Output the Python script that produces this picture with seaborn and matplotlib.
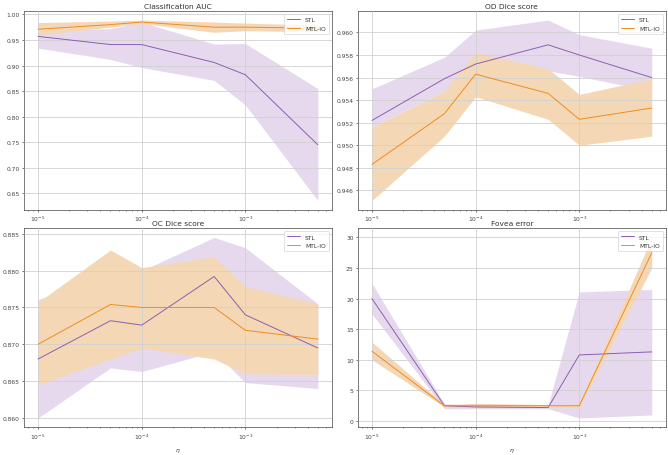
import numpy as np
import pandas as pd
import matplotlib
matplotlib.use("Agg")
import matplotlib.pyplot as plt
import seaborn as sns

# -------------------------------------------------
# Data
# -------------------------------------------------
eta = [1e-5, 5e-5, 1e-4, 5e-4, 1e-3, 5e-3]

auc_stl = [0.957, 0.941, 0.941, 0.906, 0.882, 0.745]
auc_stl_lo = [0.934, 0.912, 0.896, 0.871, 0.823, 0.636]
auc_stl_hi = [0.970, 0.972, 0.985, 0.942, 0.943, 0.855]
auc_mtl = [0.971, 0.980, 0.985, 0.975, 0.975, 0.973]
auc_mtl_lo = [0.960, 0.975, 0.982, 0.965, 0.968, 0.966]
auc_mtl_hi = [0.984, 0.987, 0.989, 0.985, 0.983, 0.979]

od_stl = [0.9522, 0.9559, 0.9572, 0.9589, 0.9580, 0.9560]
od_stl_lo = [0.9516, 0.9548, 0.9545, 0.9566, 0.9561, 0.9548]
od_stl_hi = [0.9550, 0.9578, 0.9602, 0.9611, 0.9598, 0.9586]
od_mtl = [0.9483, 0.9528, 0.9563, 0.9546, 0.9523, 0.9533]
od_mtl_lo = [0.9451, 0.9508, 0.9543, 0.9523, 0.9500, 0.9508]
od_mtl_hi = [0.9516, 0.9548, 0.9582, 0.9568, 0.9545, 0.9559]

oc_stl = [0.8680, 0.8732, 0.8726, 0.8792, 0.8740, 0.8695]
oc_stl_lo = [0.8600, 0.8668, 0.8663, 0.8690, 0.8648, 0.8640]
oc_stl_hi = [0.8761, 0.8790, 0.8800, 0.8845, 0.8831, 0.8755]
oc_mtl = [0.8700, 0.8754, 0.8750, 0.8750, 0.8719, 0.8707]
oc_mtl_lo = [0.8645, 0.8680, 0.8695, 0.8680, 0.8660, 0.8659]
oc_mtl_hi = [0.8757, 0.8828, 0.8804, 0.8819, 0.8778, 0.8755]

fov_stl = [20.0, 2.5, 2.3, 2.2, 10.8, 11.3]
fov_stl_lo = [17.5, 2.0, 2.0, 2.0, 0.5, 1.0]
fov_stl_hi = [22.5, 2.8, 2.6, 2.6, 21.1, 21.5]
fov_mtl = [11.4, 2.5, 2.5, 2.5, 2.5, 27.5]
fov_mtl_lo = [10.0, 2.3, 2.3, 2.3, 2.2, 25.0]
fov_mtl_hi = [12.9, 2.7, 2.9, 2.7, 2.8, 30.0]

titles = ["Classification AUC", "OD Dice score", "OC Dice score", "Fovea error"]
models = ["STL", "MTL-IO"]
colors = {"STL": "#8c5fb0", "MTL-IO": "#f08c1e"}
band_colors = {"STL": "#e6d9ee", "MTL-IO": "#f4d7b5"}

panels = [
    (auc_stl, auc_stl_lo, auc_stl_hi, auc_mtl, auc_mtl_lo, auc_mtl_hi),
    (od_stl, od_stl_lo, od_stl_hi, od_mtl, od_mtl_lo, od_mtl_hi),
    (oc_stl, oc_stl_lo, oc_stl_hi, oc_mtl, oc_mtl_lo, oc_mtl_hi),
    (fov_stl, fov_stl_lo, fov_stl_hi, fov_mtl, fov_mtl_lo, fov_mtl_hi),
]

# -------------------------------------------------
# Plot
# -------------------------------------------------
sns.set_style("ticks")
plt.rcParams["font.family"] = ["DejaVu Sans"]
plt.rcParams.update({
    "font.size": 4.3,
    "axes.titlesize": 5.4,
    "axes.labelsize": 4.3,
    "xtick.labelsize": 4.3,
    "ytick.labelsize": 4.3,
    "legend.fontsize": 4.3,
    "axes.linewidth": 0.5,
    "xtick.major.width": 0.5,
    "ytick.major.width": 0.5,
    "xtick.minor.width": 0.4,
    "xtick.major.size": 1.6,
    "ytick.major.size": 1.6,
    "xtick.minor.size": 0.9,
    "xtick.major.pad": 1.5,
    "ytick.major.pad": 1.5,
    "axes.titlepad": 2.5,
    "axes.edgecolor": "#444444",
    "xtick.color": "#444444",
    "ytick.color": "#444444",
    "axes.labelcolor": "#333333",
    "text.color": "#333333",
})

fig, axes = plt.subplots(2, 2, figsize=(6.68, 4.56), dpi=100)
fig.subplots_adjust(left=0.036, right=0.9966, top=0.9737, bottom=0.0614,
                    wspace=0.085, hspace=0.095)

for ax, title, vals in zip(axes.flat, titles, panels):
    s, s_lo, s_hi, m, m_lo, m_hi = vals
    df = pd.DataFrame({
        "eta": eta * 2,
        "value": s + m,
        "model": ["STL"] * len(eta) + ["MTL-IO"] * len(eta),
    })
    ax.fill_between(eta, s_lo, s_hi, color=band_colors["STL"], lw=0, zorder=1)
    ax.fill_between(eta, m_lo, m_hi, color=band_colors["MTL-IO"], lw=0, zorder=1.1)
    sns.lineplot(data=df, x="eta", y="value", hue="model", hue_order=models,
                 palette=colors, lw=0.7, ax=ax, zorder=3)
    ax.set_xscale("log")
    ax.set_title(title)
    ax.grid(True, which="major", color="#d0d0d0", lw=0.6, zorder=2)
    ax.set_axisbelow(False)
    ax.set_ylabel("")
    leg = ax.legend(loc="upper right", frameon=True, handlelength=2.2,
                    borderpad=0.5, labelspacing=0.6)
    leg.get_frame().set_linewidth(0.5)
    leg.get_frame().set_edgecolor("#cccccc")
    leg.set_zorder(5)

for ax in axes[0]:
    ax.set_xlabel("")
for ax in axes[1]:
    ax.set_xlabel("$\\eta$")

fig.savefig("out.png", dpi=100)
